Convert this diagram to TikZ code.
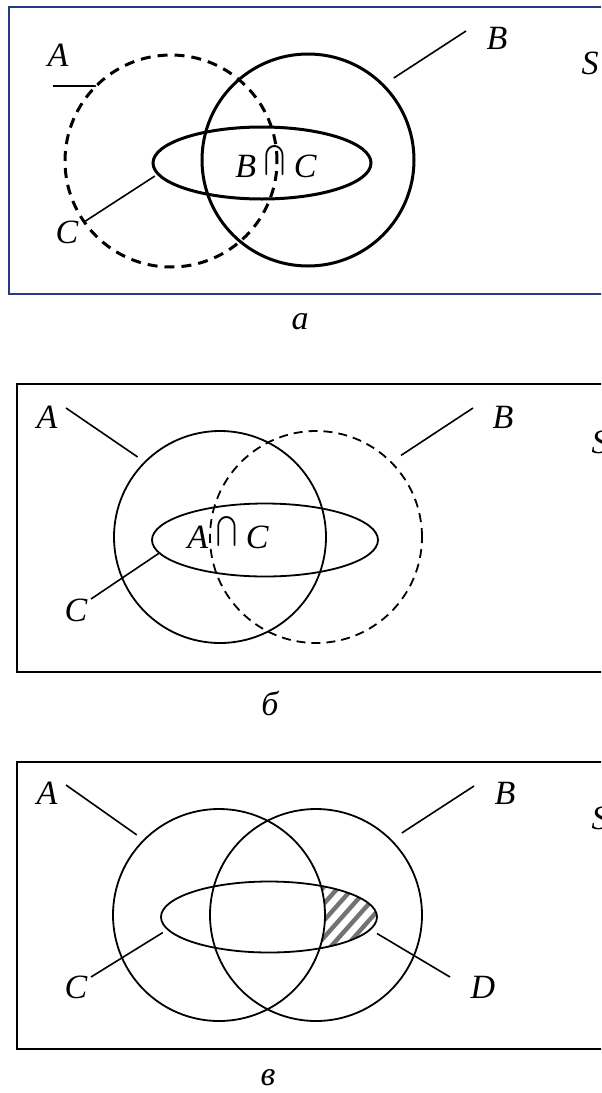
\documentclass[tikz,border=0pt]{standalone}
\usepackage{graphicx}
\usepackage{fontspec}
\setmainfont{Liberation Serif}
\usetikzlibrary{shapes.geometric}

\definecolor{framec}{RGB}{35,60,130}
\definecolor{hatchc}{RGB}{115,115,115}

\tikzset{
  lbl/.style={font=\fontsize{17}{20}\selectfont\itshape, inner sep=1pt},
  setc/.style={circle, draw, inner sep=0pt, outer sep=0pt, minimum size=106pt},
  sete/.style={ellipse, draw, inner sep=0pt, outer sep=0pt},
  boldset/.style={line width=1.5pt},
  thinset/.style={line width=0.9pt},
  dashbig/.style={dash pattern=on 5pt off 3.5pt},
  dashsmall/.style={dash pattern=on 4.5pt off 3pt},
  lead/.style={line width=0.8pt},
  hatch/.style={draw=hatchc, line width=2.2pt},
}
\newcommand{\bigcapsym}{\raisebox{2pt}{\scalebox{1.25}[1.5]{$\bigcap$}}}

\begin{document}
\begin{tikzpicture}[x=0.5pt, y=-0.5pt]
  \clip (0,0) rectangle (601,1093);

  % a
  \draw[framec, line width=1.2pt] (9,7) rectangle (640,294);
  \node[setc, boldset, dashbig] (aA) at (171,161) {};
  \node[setc, boldset] (aB) at (308,160) {};
  \node[sete, boldset, minimum width=109pt, minimum height=36pt] (aC) at (262,163) {};
  \node[lbl] (laA) at (58,55) {A};
  \node[lbl] (laB) at (497,38) {B};
  \node[lbl] (laS) at (590,63) {S};
  \node[lbl] (laC) at (67,232) {C};
  \node[lbl] (laBC) at (276,162) {B \bigcapsym{} C};
  \node[lbl] (capa) at (300,322) {а};
  \draw[lead] ([shift={(-5,31)}]laA.center) -- (aA.135);
  \draw[lead, shorten >=6.5pt] ([shift={(-31,-7)}]laB.center) -- (aB.45);
  \draw[lead, shorten >=2pt] ([shift={(17,-10)}]laC.center) -- (aC.186);

  % b
  \draw[line width=1.1pt] (17,384) rectangle (640,672);
  \node[setc, thinset] (bA) at (220,537) {};
  \node[setc, thinset, dashsmall] (bB) at (316,537) {};
  \node[sete, thinset, minimum width=113pt, minimum height=36.5pt] (bC) at (265,540) {};
  \node[lbl] (lbA) at (47,417) {A};
  \node[lbl] (lbB) at (503,417) {B};
  \node[lbl] (lbS) at (600,442) {S};
  \node[lbl] (lbC) at (76,610) {C};
  \node[lbl] (lbAC) at (228,533) {A \bigcapsym{} C};
  \node[lbl] (capb) at (270,703) {б};
  \draw[lead, shorten >=4.5pt] ([shift={(19,-9)}]lbA.center) -- (bA.135);
  \draw[lead, shorten >=6pt] ([shift={(-30,-9)}]lbB.center) -- (bB.45);
  \draw[lead] ([shift={(15,-11)}]lbC.center) -- (bC.187);

  % v
  \draw[line width=1.1pt] (17,762) rectangle (640,1049);
  \begin{scope}
    \clip (269,917) ellipse [x radius=108, y radius=35.5];
    \clip (219,809) arc[start angle=-90, end angle=90, radius=106]
      -- (400,1021) -- (400,809) -- cycle;
    \foreach \k in {0,...,9}
      \draw[hatch] (250+\k*15,970) -- ++(80,-90);
  \end{scope}
  \node[setc, thinset] (cA) at (219,915) {};
  \node[setc, thinset] (cB) at (316,915) {};
  \node[sete, thinset, minimum width=108pt, minimum height=35.5pt] (cC) at (269,917) {};
  \node[lbl] (lcA) at (47,793) {A};
  \node[lbl] (lcB) at (505,793) {B};
  \node[lbl] (lcS) at (600,818) {S};
  \node[lbl] (lcC) at (76,987) {C};
  \node[lbl] (lcD) at (483,987) {D};
  \node[lbl] (capc) at (268,1078) {в};
  \draw[lead, shorten >=4.5pt] ([shift={(19,-8)}]lcA.center) -- (cA.135);
  \draw[lead, shorten >=6.5pt] ([shift={(-31,-7)}]lcB.center) -- (cB.45);
  \draw[lead, shorten >=3pt] ([shift={(15,-10)}]lcC.center) -- (cC.187);
  \draw[lead, shorten >=4pt] ([shift={(-33,-10)}]lcD.center) -- (cC.353);
\end{tikzpicture}
\end{document}
